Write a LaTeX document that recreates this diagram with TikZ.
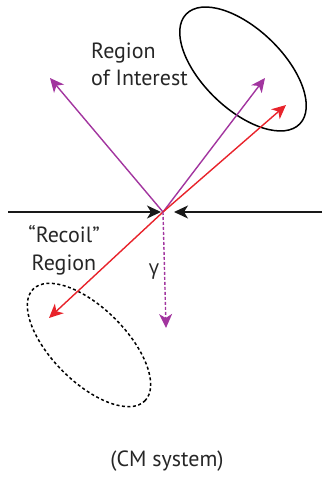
\documentclass[tikz,border=0pt]{standalone}
\usepackage{fontspec}
\setmainfont{PT Sans}
\newfontfamily\greekfont{Open Sans}
\usetikzlibrary{arrows.meta}
\definecolor{purp}{HTML}{A2359F}
\definecolor{redd}{HTML}{E8232B}
\tikzset{
  tip/.style={-{Stealth[length=14pt,width=13pt,inset=4pt]}},
  line/.style={line width=1.4pt},
  lbl/.style={font=\fontsize{22}{26}\selectfont, inner sep=0pt, text=black!85}
}
\begin{document}
\begin{tikzpicture}[x=1pt,y=1pt]
\useasboundingbox (0,0) rectangle (322,477);
% key points
\coordinate (O) at (163,265);
\coordinate (L) at (8,265);
\coordinate (Lt) at (161,265);
\coordinate (R) at (322,265);
\coordinate (Rt) at (174,265);
\coordinate (P1) at (50,399);
\coordinate (P2) at (265,399);
\coordinate (R1) at (286,372);
\coordinate (R2) at (49,159);
\coordinate (G) at (166,149);
% ellipses
\draw[line width=1.5pt, rotate around={-44:(243,408)}] (243,408) ellipse [x radius=79, y radius=40];
\draw[line width=1.5pt, dash pattern=on 3pt off 2.5pt, rotate around={-45:(89,132)}] (89,132) ellipse [x radius=79, y radius=37];
% beam
\draw[line, black!90, tip] (L) -- (Lt);
\draw[line, black!90, tip] (R) -- (Rt);
% products
\draw[line, purp, tip] (O) -- (P1);
\draw[line, purp, tip] (O) -- (P2);
\draw[line, redd, tip] (O) -- (R1);
\draw[line, redd, tip] (O) -- (R2);
\draw[line, purp, dash pattern=on 3pt off 2pt, tip] (O) -- (G);
% labels
\node[lbl, anchor=base west] (roi) at (91,418) {Region};
\node[lbl, anchor=base west] (roi2) at (91,391) {of Interest};
\node[lbl, anchor=base] (rec) at (64,234) {\char"201CRecoil\char"201D};
\node[lbl, anchor=base] (rec2) at (64,206) {Region};
\node[lbl, anchor=base] (gam) at (154,202) {\greekfont\fontsize{20}{24}\selectfont γ};
\node[lbl, anchor=base] (cm) at (167,10) {(CM system)};
\end{tikzpicture}
\end{document}
